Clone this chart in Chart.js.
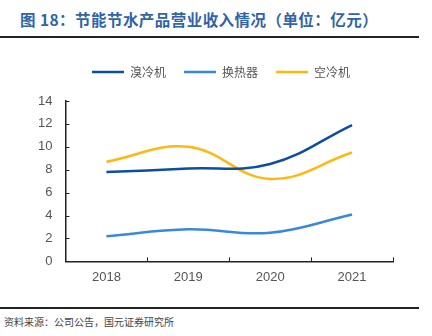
<!DOCTYPE html>
<html>
<head>
<meta charset="utf-8">
<script src="https://cdn.jsdelivr.net/npm/chart.js@4"></script>
<style>
  html, body { margin: 0; padding: 0; background: #fff; }
  body { width: 432px; height: 336px; position: relative; overflow: hidden; font-family: "Noto Sans CJK SC", sans-serif; }
  #title { position: absolute; left: 20px; top: 8px; font-size: 15.5px; font-weight: bold; letter-spacing: 0.45px; color: #3163a6; white-space: nowrap; }
  #rule1 { position: absolute; left: 0; top: 36px; width: 419px; height: 2px; background: #222; }
  #rule2 { position: absolute; left: 0; top: 307px; width: 419px; height: 2px; background: #222; }
  #source { position: absolute; left: 4px; top: 314px; font-size: 10px; color: #444; white-space: nowrap; }
  #wrap { position: absolute; left: 0; top: 42px; width: 432px; height: 251px; }
</style>
</head>
<body>
<div id="title">图 18：节能节水产品营业收入情况（单位：亿元）</div>
<div id="rule1"></div>
<div id="wrap"><canvas id="chartContainer"></canvas></div>
<div id="rule2"></div>
<div id="source">资料来源：公司公告，国元证券研究所</div>
<script>
"use strict";

// 1: data
const years = ['2018', '2019', '2020', '2021'];
const bromideChiller = [7.8, 8.1, 8.5, 11.9];   // 溴冷机
const heatExchanger = [2.2, 2.8, 2.5, 4.1];     // 换热器
const airCooler = [8.7, 10.0, 7.2, 9.5];        // 空冷机
const yTicks = [0, 2, 4, 6, 8, 10, 12, 14];

// short tick marks pointing into the plot area
const innerTicks = {
  id: 'innerTicks',
  afterDraw(chart) {
    const ctx = chart.ctx;
    const x = chart.scales.x;
    const y = chart.scales.y;
    ctx.save();
    ctx.strokeStyle = '#222';
    ctx.lineWidth = 1;
    ctx.beginPath();
    for (const v of yTicks) {
      const py = Math.round(y.getPixelForValue(v)) + 0.5;
      ctx.moveTo(x.left, py);
      ctx.lineTo(x.left + 4, py);
    }
    for (let i = 0; i <= years.length; i++) {
      const px = Math.round(x.getPixelForValue(i - 0.5)) + 0.5;
      ctx.moveTo(px, y.bottom);
      ctx.lineTo(px, y.bottom - 4);
    }
    ctx.stroke();
    ctx.restore();
  }
};

// extra room between legend and plot, legend nudged right
const legendGap = {
  id: 'legendGap',
  beforeInit(chart) {
    const fit = chart.legend.fit;
    chart.legend.fit = function () {
      fit.call(this);
      this.height += 13;
    };
  },
  afterLayout(chart) {
    chart.legend.left += 12;
    chart.legend.right += 12;
  }
};

function lineSet(label, data, color) {
  return {
    label,
    data,
    borderColor: color,
    backgroundColor: color,
    borderWidth: 2.5,
    pointRadius: 0,
    tension: 0.4,
    fill: false
  };
}

// 2: create the chart
function appendChart() {
  const chartContainer = document.getElementById('chartContainer');
  new Chart(chartContainer, {
    type: 'line',
    data: {
      labels: years,
      datasets: [
        lineSet('溴冷机', bromideChiller, '#0b4ea2'),
        lineSet('换热器', heatExchanger, '#3a88d8'),
        lineSet('空冷机', airCooler, '#ffb80f')
      ]
    },
    options: {
      responsive: true,
      maintainAspectRatio: false,
      animation: false,
      layout: { padding: { left: 25, right: 39, top: 6, bottom: 0 } },
      plugins: {
        tooltip: { enabled: false },
        legend: {
          position: 'top',
          labels: {
            usePointStyle: true,
            pointStyle: 'line',
            pointStyleWidth: 32,
            boxHeight: 10,
            padding: 18,
            color: '#555',
            font: { size: 12, family: '"Noto Sans CJK SC", sans-serif' }
          }
        }
      },
      scales: {
        x: {
          offset: true,
          grid: { display: false, drawTicks: false },
          border: { display: true, color: '#222', width: 1.5 },
          ticks: { color: '#555', padding: 8, font: { size: 13, family: '"Liberation Sans", Arial, sans-serif' } }
        },
        y: {
          min: 0,
          max: 14,
          afterBuildTicks(scale) { scale.ticks = yTicks.map(v => ({ value: v })); },
          grid: { display: false, drawTicks: false },
          border: { display: true, color: '#222', width: 1.5 },
          ticks: { color: '#555', padding: 13, font: { size: 13, family: '"Liberation Sans", Arial, sans-serif' } }
        }
      }
    },
    plugins: [innerTicks, legendGap]
  });
}

appendChart();
</script>
</body>
</html>
